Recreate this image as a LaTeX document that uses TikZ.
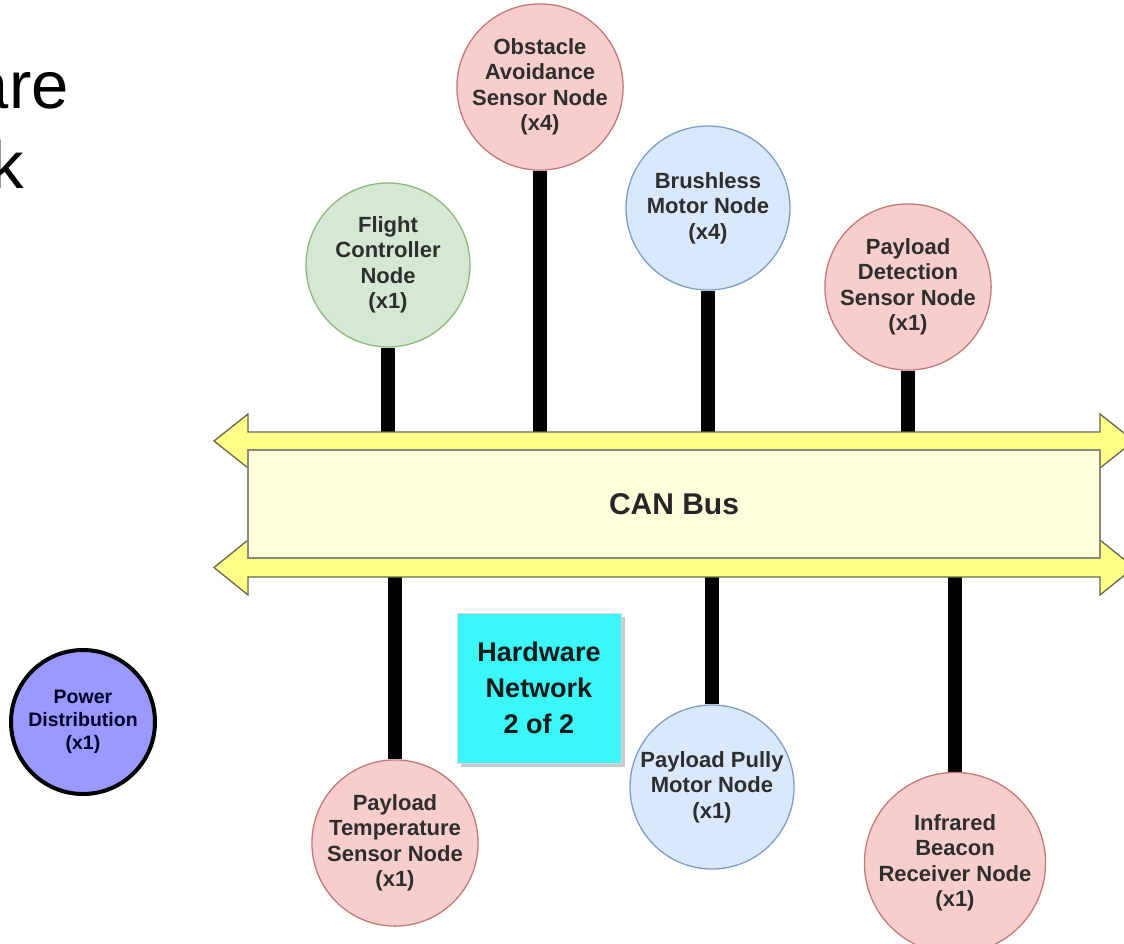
\documentclass[tikz,border=0pt]{standalone}
\usepackage{fontspec}
\setmainfont{Liberation Sans}
\usetikzlibrary{backgrounds,shadows}

\definecolor{pinkfill}{HTML}{F8CECC}
\definecolor{pinkline}{HTML}{C07A78}
\definecolor{bluefill}{HTML}{DAE8FC}
\definecolor{blueline}{HTML}{7E9CC8}
\definecolor{greenfill}{HTML}{D5E8D4}
\definecolor{greenline}{HTML}{8DB879}
\definecolor{powerfill}{HTML}{9999FF}
\definecolor{busfill}{HTML}{FFFFDC}
\definecolor{busline}{HTML}{8A8A7A}
\definecolor{arrowfill}{HTML}{FFFF88}
\definecolor{arrowline}{HTML}{66664E}
\definecolor{tagfill}{HTML}{3CF7F7}
\definecolor{nodetext}{HTML}{2E2E2E}

\tikzset{
  unit/.style={circle, minimum size=164pt, inner sep=0pt, line width=1.3pt,
    align=center, text=nodetext,
    font=\bfseries\fontsize{22}{25.5}\selectfont},
  pinkunit/.style={unit, fill=pinkfill, draw=pinkline},
  blueunit/.style={unit, fill=bluefill, draw=blueline},
  greenunit/.style={unit, fill=greenfill, draw=greenline},
  busarrow/.style={fill=arrowfill, draw=arrowline, line width=1.3pt, line join=miter},
  link/.style={line width=14pt, black},
  titletext/.style={anchor=base west, inner sep=0pt,
    font=\fontsize{67}{80}\selectfont}
}

\begin{document}
\begin{tikzpicture}[x=1pt, y=-1pt]
  \clip (0,0) rectangle (1124,943);

  % heading, running off the left edge
  \node[titletext] (head1) at (-222,108) {Hardware};
  \node[titletext] (head2) at (-222,188) {Network};

  % the CAN bus body
  \node[draw=busline, fill=busfill, line width=1.3pt, minimum width=852pt,
        minimum height=108pt, inner sep=0pt,
        font=\bfseries\fontsize{30}{34}\selectfont, text=black!85]
        (bus) at (674,504) {CAN Bus};

  % shaft centre lines of the two bus arrows
  \coordinate (upper) at (674,441);
  \coordinate (lower) at (674,567.5);

  % units above the bus
  \node[greenunit] (fc)  at (388,265) {Flight\\Controller\\Node\\(x1)};
  \node[pinkunit]  (oas) at (540,87)  {Obstacle\\Avoidance\\Sensor Node\\(x4)};
  \node[blueunit]  (bm)  at (708,208) {Brushless\\Motor Node\\(x4)};
  \node[pinkunit]  (pds) at (908,287) {Payload\\Detection\\Sensor Node\\(x1)};

  % units below the bus
  \node[pinkunit]  (pts) at (395,843) {Payload\\Temperature\\Sensor Node\\(x1)};
  \node[blueunit]  (ppm) at (712,787) {Payload Pully\\Motor Node\\(x1)};
  \node[pinkunit]  (irb) at (955,863) {Infrared\\Beacon\\Receiver Node\\(x1)};

  % power distribution
  \node[circle, minimum size=144pt, inner sep=0pt, fill=powerfill, draw=black,
        line width=4pt, align=center, text=black!85!blue,
        font=\bfseries\fontsize{19.5}{23}\selectfont]
        (pwr) at (83,722) {Power\\Distribution\\(x1)};

  % sheet label
  \node[rectangle, minimum width=164pt, minimum height=150pt, inner sep=0pt,
        fill=tagfill, draw=black!15, line width=1pt, align=center,
        text=black!90, font=\bfseries\fontsize{27}{36}\selectfont,
        drop shadow={shadow xshift=4pt, shadow yshift=-4pt,
                     fill=black!35, opacity=0.6}]
        (tag) at (539,688) {Hardware\\Network\\2 of 2};

  \begin{scope}[on background layer]
    % stubs joining each unit to the bus
    \draw[link] (fc)  -- (fc  |- upper);
    \draw[link] (oas) -- (oas |- upper);
    \draw[link] (bm)  -- (bm  |- upper);
    \draw[link] (pds) -- (pds |- upper);
    \draw[link] (pts) -- (pts |- lower);
    \draw[link] (ppm) -- (ppm |- lower);
    \draw[link] (irb) -- (irb |- lower);

    % two-headed bus arrows
    \draw[busarrow] (248,432) -- (1100,432) -- (1100,414) -- (1134,441)
      -- (1100,468) -- (1100,450) -- (248,450) -- (248,468) -- (214,441)
      -- (248,414) -- cycle;
    \draw[busarrow] (248,558) -- (1100,558) -- (1100,540) -- (1134,567.5)
      -- (1100,595) -- (1100,577) -- (248,577) -- (248,595) -- (214,567.5)
      -- (248,540) -- cycle;
  \end{scope}
\end{tikzpicture}
\end{document}
